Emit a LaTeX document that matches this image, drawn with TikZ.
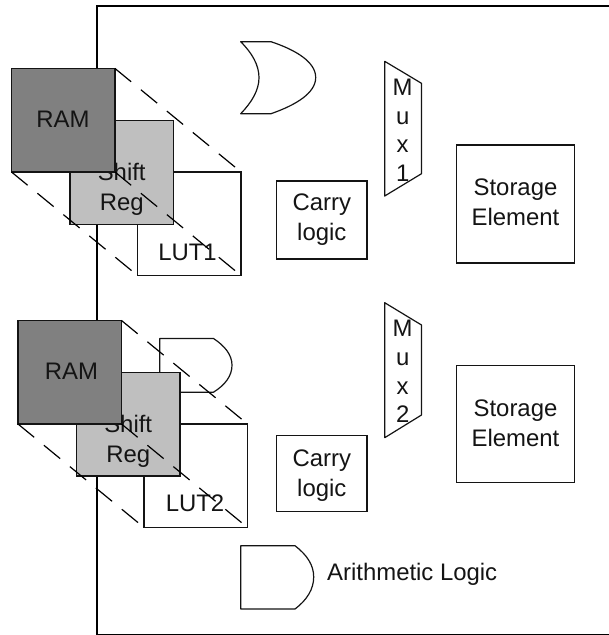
\documentclass[tikz,border=0pt]{standalone}
\usepackage{fontspec}
\setmainfont{Liberation Sans}
\definecolor{ink}{HTML}{141414}
\tikzset{
  box/.style={draw=ink,line width=1.2pt,rectangle,outer sep=0pt,inner sep=0pt,minimum width=#1},
  box/.default=103.5pt,
  gate/.style={draw=ink,line width=1.2pt,fill=white,line join=round},
  lbl/.style={inner sep=0pt,align=center,text=ink,font=\fontsize{23.9}{30}\selectfont},
  muxlbl/.style={lbl,font=\fontsize{23.9}{28.7}\selectfont},
  guide/.style={draw=black,line width=1.2pt,dash pattern=on 21pt off 12.6pt},
  frameline/.style={draw=black,line width=2.4pt,line join=miter}
}
\begin{document}
\begin{tikzpicture}[x=1pt,y=-1pt]
\useasboundingbox (0,0) rectangle (609,635);
\draw[frameline] (609,5.8) -- (96.8,5.8) -- (96.8,635.5) -- (609,635.5);

% gates
\draw[gate] (240.7,41.7) -- (271,41.7) .. controls (296,50) and (315.7,62) .. (315.7,77.5)
  .. controls (315.7,93) and (296,105) .. (271,113.7) -- (240.7,113.7)
  .. controls (252,102) and (259,90) .. (259,77.7) .. controls (259,65) and (252,53) .. (240.7,41.7) -- cycle;
\draw[gate] (159.7,338.5) -- (213.5,338.5) .. controls (225,346) and (232,355) .. (232,365.2)
  .. controls (232,376) and (225,385) .. (213.5,392.2) -- (159.7,392.2) -- cycle;
\draw[gate] (240.7,545.7) -- (295,545.7) .. controls (307,555) and (313.7,565) .. (313.7,577)
  .. controls (313.7,589) and (307,600) .. (295,609) -- (240.7,609) -- cycle;

% multiplexers
\draw[gate] (384.7,61.3) -- (421.5,83.3) -- (421.5,173.7) -- (384.7,196) -- cycle;
\draw[gate] (384.7,302.7) -- (421.5,325) -- (421.5,415) -- (384.7,437.7) -- cycle;
\node[muxlbl] (mux1) at (402.7,130.4) {M\\u\\x\\1};
\node[muxlbl] (mux2) at (402.7,371.7) {M\\u\\x\\2};

% plain blocks
\node[box=90.3pt,minimum height=78pt] (carry1) at (321.8,220) {};
\node[lbl] (carry1t) at (321.8,220) {Carry\\logic};
\node[box=90.3pt,minimum height=76pt] (carry2) at (321.8,473.7) {};
\node[lbl] (carry2t) at (321.8,476) {Carry\\logic};
\node[box=117.6pt,minimum height=118pt] (store1) at (515.5,204) {};
\node[lbl] (store1t) at (515.5,202.5) {Storage\\Element};
\node[box=117.6pt,minimum height=117pt] (store2) at (515.5,424.2) {};
\node[lbl] (store2t) at (515.5,423) {Storage\\Element};
\node[lbl,anchor=base west] (arith) at (327,580) {Arithmetic Logic};

% stack 1
\node[box,minimum height=103.5pt,fill=white] (lut1) at (189.2,223.7) {};
\node[lbl,anchor=base] (lut1t) at (187.5,260) {LUT1};
\node[box,minimum height=103.5pt,fill=black!25] (shift1) at (121.7,172.5) {};
\node[lbl] (shift1t) at (121.7,189) {Shift\\Reg};
\node[box,minimum height=103.5pt,fill=black!50] (ram1) at (63.2,120.2) {};
\node[lbl,anchor=base] (ram1t) at (63,127.7) {RAM};
\draw[guide] (ram1.north east) -- (lut1.north east);
\draw[guide] (ram1.south west) -- (lut1.south west);
\draw[guide] (ram1.south east) -- (lut1.south east);

% stack 2
\node[box,minimum height=103.5pt,fill=white] (lut2) at (195.7,475.7) {};
\node[lbl,anchor=base] (lut2t) at (195,511.7) {LUT2};
\node[box,minimum height=103.5pt,fill=black!25] (shift2) at (128.2,424.2) {};
\node[lbl] (shift2t) at (128.2,441) {Shift\\Reg};
\node[box,minimum height=103.5pt,fill=black!50] (ram2) at (69.7,372.2) {};
\node[lbl,anchor=base] (ram2t) at (71.5,379.7) {RAM};
\draw[guide] (ram2.north east) -- (lut2.north east);
\draw[guide] (ram2.south west) -- (lut2.south west);
\draw[guide] (ram2.south east) -- (lut2.south east);
\end{tikzpicture}
\end{document}
